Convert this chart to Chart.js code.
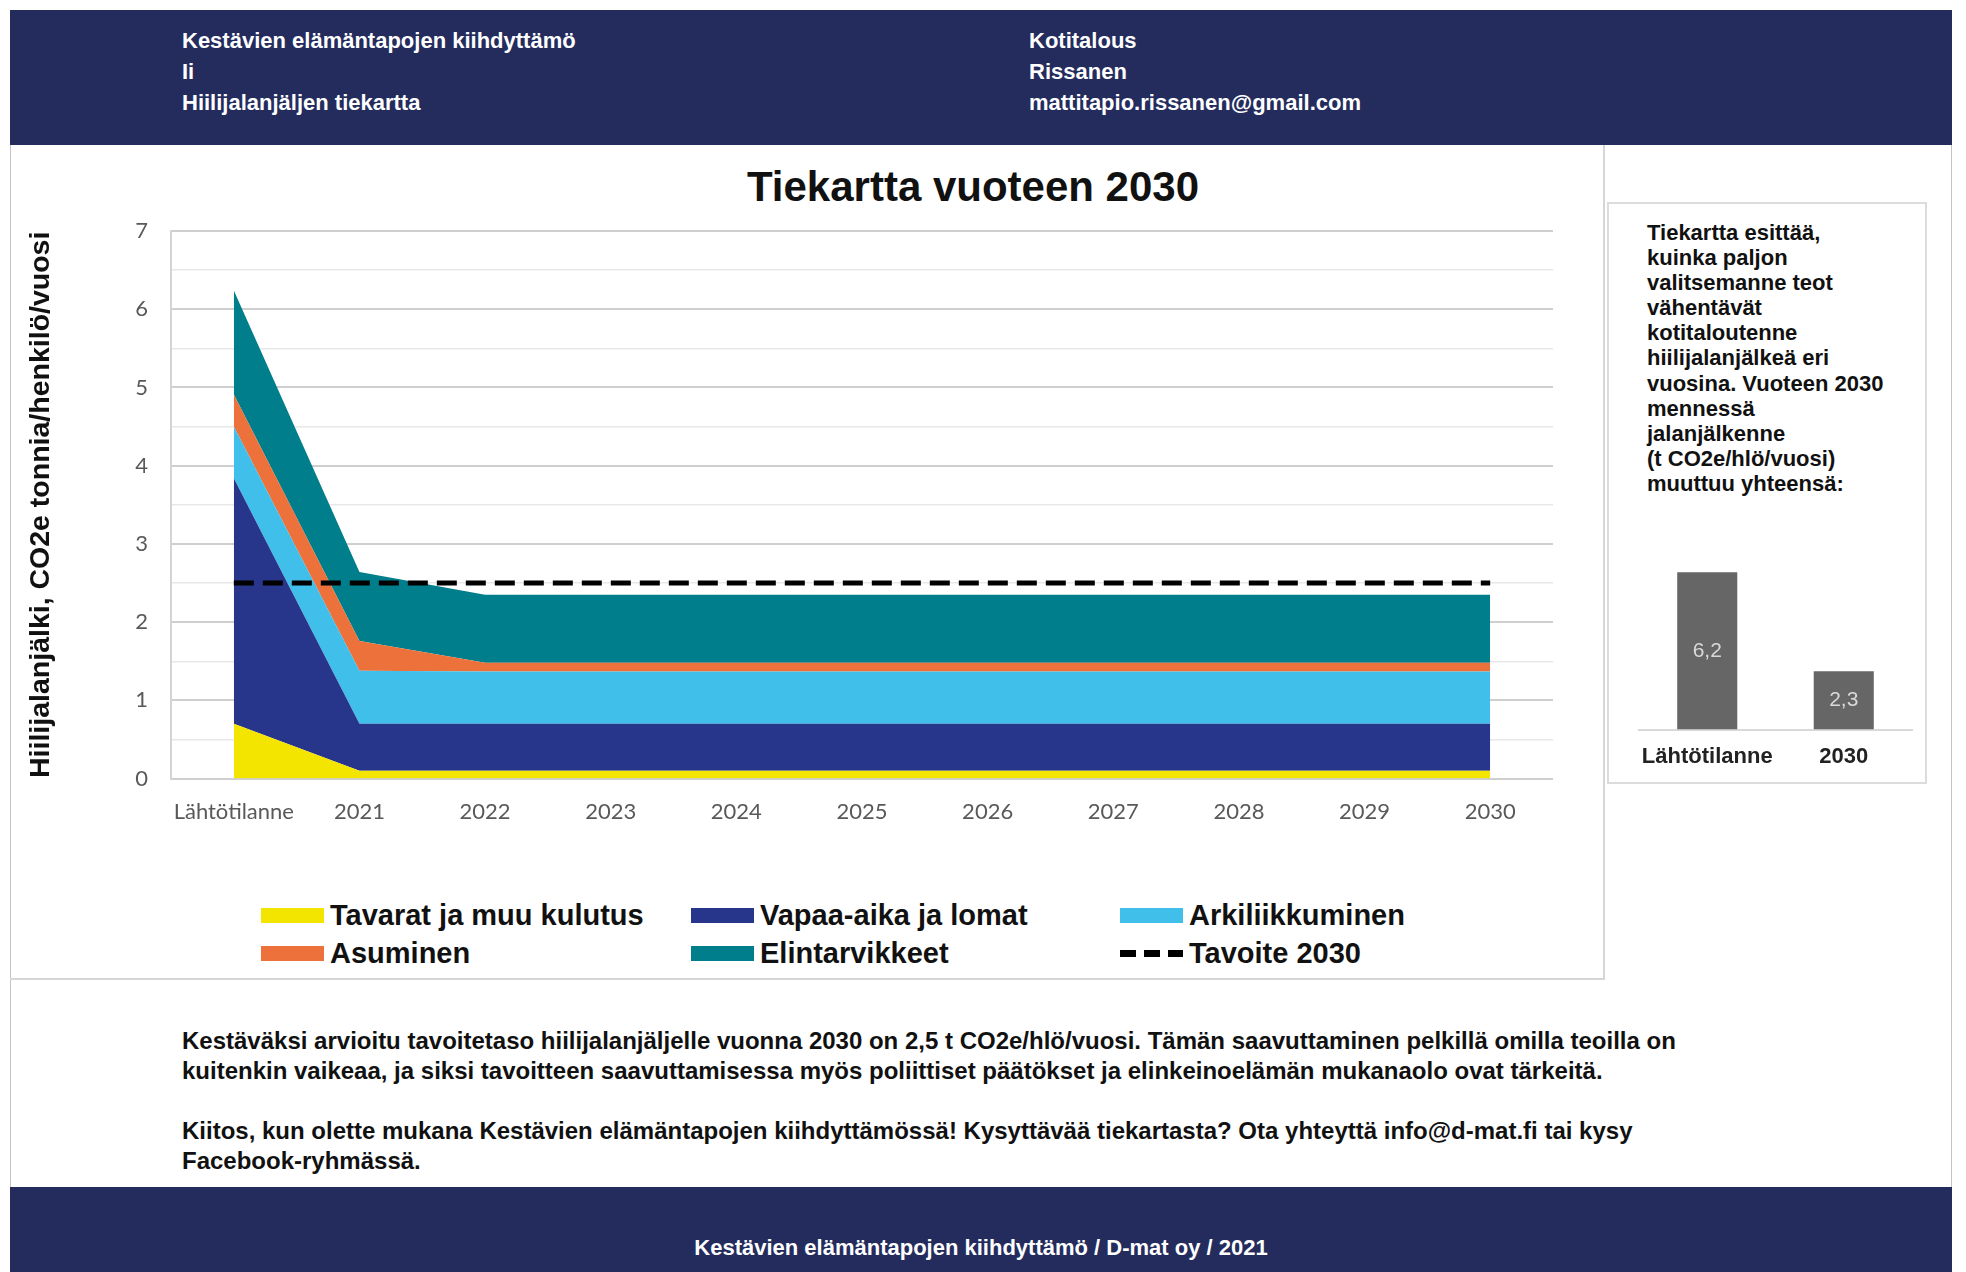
<!DOCTYPE html>
<html>
<head>
<meta charset="utf-8">
<script src="https://cdn.jsdelivr.net/npm/chart.js@4.4.0/dist/chart.umd.min.js"></script>
<style>
body{margin:0;background:#fff;width:1966px;height:1272px;position:relative;overflow:hidden;font-family:"Liberation Sans",Arial,sans-serif;color:#111}
.frame{position:absolute;left:10px;top:10px;width:1940px;height:1262px;border-left:1px solid #c4c4c4;border-right:1px solid #c4c4c4}
.banner{position:absolute;left:10px;width:1942px;background:#242c5e;color:#fff;font-weight:bold}
#top{top:10px;height:135px}
#bottom{top:1187px;height:85px}
.hcol{position:absolute;top:15px;font-size:22px;line-height:31px}
#panel{position:absolute;left:10px;top:145px;width:1593px;height:833px;border-right:2px solid #d6d6d6;border-bottom:2px solid #d6d6d6}
#title{position:absolute;left:10px;width:1926px;top:162px;text-align:center;font-weight:bold;font-size:42px;line-height:50px}
#tiekartta{position:absolute;left:10px;top:145px}
#legend{position:absolute;left:0;top:0}
.li{position:absolute;font-weight:bold;font-size:29px;line-height:34px;white-space:nowrap}
.li .box{position:absolute;left:0;top:10px;width:63px;height:15px}
.li .txt{position:absolute;left:69px;top:0}
#side{position:absolute;left:1607px;top:202px;width:316px;height:578px;border:2px solid #dcdcdc}
#sidetext{position:absolute;left:1647px;top:220px;font-weight:bold;font-size:22px;line-height:25.1px}
#summary{position:absolute;left:1610px;top:540px}
#info{position:absolute;left:182px;top:1026px;font-weight:bold;font-size:24px;line-height:30px;white-space:nowrap}
#foot{position:absolute;left:0;width:1942px;top:48px;text-align:center;font-size:22px}
</style>
</head>
<body>
<div class="frame"></div>
<div class="banner" id="top">
  <div class="hcol" style="left:172px">Kestävien elämäntapojen kiihdyttämö<br>Ii<br>Hiilijalanjäljen tiekartta</div>
  <div class="hcol" style="left:1019px">Kotitalous<br>Rissanen<br>mattitapio.rissanen@gmail.com</div>
</div>
<div id="panel"></div>
<div id="title">Tiekartta vuoteen 2030</div>
<canvas id="tiekartta" width="1594" height="700"></canvas>
<div id="legend"></div>
<div id="side"></div>
<div id="sidetext">Tiekartta esittää,<br>kuinka paljon<br>valitsemanne teot<br>vähentävät<br>kotitaloutenne<br>hiilijalanjälkeä eri<br>vuosina. Vuoteen 2030<br>mennessä<br>jalanjälkenne<br>(t CO2e/hlö/vuosi)<br>muuttuu yhteensä:</div>
<canvas id="summary" width="314" height="254"></canvas>
<div id="info">Kestäväksi arvioitu tavoitetaso hiilijalanjäljelle vuonna 2030 on 2,5 t CO2e/hlö/vuosi. Tämän saavuttaminen pelkillä omilla teoilla on<br>kuitenkin vaikeaa, ja siksi tavoitteen saavuttamisessa myös poliittiset päätökset ja elinkeinoelämän mukanaolo ovat tärkeitä.<br><br>Kiitos, kun olette mukana Kestävien elämäntapojen kiihdyttämössä! Kysyttävää tiekartasta? Ota yhteyttä info@d-mat.fi tai kysy<br>Facebook-ryhmässä.</div>
<div class="banner" id="bottom"><div id="foot">Kestävien elämäntapojen kiihdyttämö / D-mat oy / 2021</div></div>
<script>
// vuodet
const categories = ['Lähtötilanne', '2021', '2022', '2023', '2024', '2025', '2026', '2027', '2028', '2029', '2030']
// t CO2e / hlö / vuosi, luettu kuvasta
const tavarat = [0.7, 0.1, 0.1, 0.1, 0.1, 0.1, 0.1, 0.1, 0.1, 0.1, 0.1]
const vapaaAika = [3.14, 0.6, 0.6, 0.6, 0.6, 0.6, 0.6, 0.6, 0.6, 0.6, 0.6]
const arkiliikkuminen = [0.66, 0.68, 0.67, 0.67, 0.67, 0.67, 0.67, 0.67, 0.67, 0.67, 0.67]
const asuminen = [0.41, 0.38, 0.11, 0.11, 0.11, 0.11, 0.11, 0.11, 0.11, 0.11, 0.11]
const elintarvikkeet = [1.33, 0.88, 0.87, 0.87, 0.87, 0.87, 0.87, 0.87, 0.87, 0.87, 0.87]
const tavoite = [2.5, 2.5, 2.5, 2.5, 2.5, 2.5, 2.5, 2.5, 2.5, 2.5, 2.5]
const yTicks = [0, 1, 2, 3, 4, 5, 6, 7]

const summaryLabels = ['Lähtötilanne', '2030']
const summaryValues = [6.2, 2.3]

const tickFont = {family: 'Lato', size: 22}

const area = (label, data, color, fill) => ({
    label: label,
    data: data,
    backgroundColor: color,
    borderColor: color,
    borderWidth: 0,
    pointRadius: 0,
    fill: fill,
    order: 1
})

const datasets = [
    area('Tavarat ja muu kulutus', tavarat, '#f4e500', 'origin'),
    area('Vapaa-aika ja lomat', vapaaAika, '#27368a', '-1'),
    area('Arkiliikkuminen', arkiliikkuminen, '#40bfea', '-1'),
    area('Asuminen', asuminen, '#ec713b', '-1'),
    area('Elintarvikkeet', elintarvikkeet, '#017e8c', '-1'),
    {
        label: 'Tavoite 2030',
        data: tavoite,
        stack: 'tavoite',
        borderColor: '#000',
        backgroundColor: '#000',
        borderWidth: 5,
        borderDash: [20, 9],
        pointRadius: 0,
        fill: false,
        order: 0
    }
]

let myChart = new Chart(document.getElementById('tiekartta').getContext('2d'), {
    type: 'line',
    data: {labels: categories, datasets: datasets},
    options: {
        responsive: false,
        animation: false,
        devicePixelRatio: 1,
        layout: {padding: {top: 86, right: 51, left: 0, bottom: 0}},
        plugins: {legend: {display: false}, tooltip: {enabled: false}, title: {display: false}},
        scales: {
            x: {
                offset: true,
                grid: {display: false, drawTicks: false},
                border: {display: false},
                ticks: {font: tickFont, color: '#595959', padding: 20, maxRotation: 0, autoSkip: false}
            },
            y: {
                stacked: true,
                min: 0,
                max: 7,
                afterFit: (axis) => { axis.width = 161 },
                border: {display: true, color: '#d4d4d4', width: 2},
                grid: {
                    drawTicks: false,
                    color: (c) => Number.isInteger(c.tick.value) ? '#cfcfcf' : '#e8e8e8',
                    lineWidth: (c) => Number.isInteger(c.tick.value) ? 2 : 1.5
                },
                ticks: {
                    stepSize: 0.5,
                    font: tickFont,
                    color: '#595959',
                    padding: 23,
                    callback: (v) => yTicks.includes(v) ? v : ''
                },
                title: {
                    display: true,
                    text: 'Hiilijalanjälki, CO2e tonnia/henkilö/vuosi',
                    font: {family: 'Liberation Sans', size: 28.5, weight: 'bold'},
                    color: '#111',
                    padding: {top: 14, bottom: 4}
                }
            }
        }
    }
})

// selite kolmeen sarakkeeseen kuten alkuperäisessä
const legendPos = [[261, 898], [691, 898], [1120, 898], [261, 936], [691, 936], [1120, 936]]
const legendEl = document.getElementById('legend')
datasets.forEach((ds, i) => {
    const item = document.createElement('div')
    item.className = 'li'
    item.style.left = legendPos[i][0] + 'px'
    item.style.top = legendPos[i][1] + 'px'
    const box = document.createElement('span')
    box.className = 'box'
    if (ds.borderDash) {
        box.style.top = '14px'
        box.style.height = '7px'
        box.style.background = 'repeating-linear-gradient(90deg,#000 0 16px,transparent 16px 24px)'
    } else {
        box.style.background = ds.backgroundColor
    }
    const txt = document.createElement('span')
    txt.className = 'txt'
    txt.textContent = ds.label
    item.appendChild(box)
    item.appendChild(txt)
    legendEl.appendChild(item)
})

// arvot pylväiden keskelle
const barValues = {
    id: 'barValues',
    afterDatasetsDraw(chart) {
        const c = chart.ctx
        c.save()
        c.font = '21px "Liberation Sans"'
        c.fillStyle = '#d9d9d9'
        c.textAlign = 'center'
        c.textBaseline = 'middle'
        chart.getDatasetMeta(0).data.forEach((bar, i) => {
            const v = chart.data.datasets[0].data[i]
            c.fillText(v.toFixed(1).replace('.', ','), bar.x, (bar.y + bar.base) / 2)
        })
        c.restore()
    }
}

let summaryChart = new Chart(document.getElementById('summary').getContext('2d'), {
    type: 'bar',
    data: {
        labels: summaryLabels,
        datasets: [{data: summaryValues, backgroundColor: '#666666', barPercentage: 0.44, categoryPercentage: 1}]
    },
    options: {
        responsive: false,
        animation: false,
        devicePixelRatio: 1,
        layout: {padding: {top: 12, left: 29, right: 12, bottom: 10}},
        plugins: {legend: {display: false}, tooltip: {enabled: false}},
        scales: {
            x: {
                grid: {display: false, drawTicks: false},
                border: {display: true, color: '#d9d9d9', width: 2},
                ticks: {font: {family: 'Liberation Sans', size: 22, weight: 'bold'}, color: '#222', padding: 14, maxRotation: 0, minRotation: 0, autoSkip: false}
            },
            y: {display: false, min: 0, max: 7}
        }
    },
    plugins: [barValues]
})
</script>
</body>
</html>
